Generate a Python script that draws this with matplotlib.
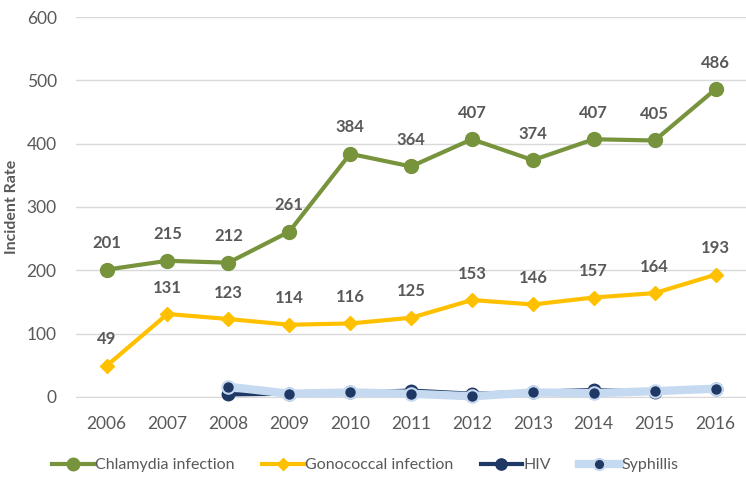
import matplotlib.pyplot as plt
from matplotlib import font_manager

years = ['2006', '2007', '2008', '2009', '2010', '2011', '2012', '2013', '2014', '2015', '2016']
chlamydia = [201, 215, 212, 261, 384, 364, 407, 374, 407, 405, 486]
gonococcal = [49, 131, 123, 114, 116, 125, 153, 146, 157, 164, 193]
hiv = [4, 5, 7, 10, 5, 8, 11, 8, 12]
syphilis = [16, 5, 7, 5, 1, 7, 6, 9, 13]
yticks = [0, 100, 200, 300, 400, 500, 600]

names = [f.name for f in font_manager.fontManager.ttflist]
font = 'Liberation Sans Narrow' if 'Liberation Sans Narrow' in names else 'Lato'
plt.rcParams['font.family'] = [font, 'DejaVu Sans']

grey = '#595959'
green = '#77933C'
yellow = '#FFC000'
navy = '#1F3864'
light = '#C5D9F1'

fig = plt.figure(figsize=(7.46, 4.87), dpi=100)
ax = fig.add_axes([0.102, 0.185, 0.898, 0.78])

x = list(range(len(years)))
x2 = x[2:]

ax.plot(x, chlamydia, color=green, lw=3, marker='o', ms=10, label='Chlamydia infection', zorder=4)
ax.plot(x, gonococcal, color=yellow, lw=3, marker='D', ms=7, label='Gonococcal infection', zorder=4)
ax.plot(x2, hiv, color=navy, lw=3, marker='o', ms=9, label='HIV', zorder=4, clip_on=False)
ax.plot(x2, syphilis, color=light, lw=6, marker='o', ms=9, mfc=navy, mec=light, mew=1.5,
        label='Syphillis', zorder=5, clip_on=False)

for series in (chlamydia, gonococcal):
    for i, v in enumerate(series):
        ax.annotate(str(v), (i, v), xytext=(0, 19), textcoords='offset points', ha='center',
                    va='center', fontsize=12, fontweight='bold', color=grey)

ax.set_xlim(-0.5, len(years) - 0.5)
ax.set_ylim(0, 600)
ax.set_xticks(x)
ax.set_xticklabels(years)
ax.set_yticks(yticks)
ax.tick_params(axis='both', length=0, labelsize=12.5, colors=grey)
ax.tick_params(axis='x', pad=14)
ax.tick_params(axis='y', pad=14)
ax.grid(axis='y', color='#D9D9D9', lw=1)
ax.set_axisbelow(True)
for s in ['top', 'right', 'left']:
    ax.spines[s].set_visible(False)
ax.spines['bottom'].set_color('#D9D9D9')

ax.set_ylabel('Incident Rate', fontsize=11.5, fontweight='bold', color=grey)
ax.yaxis.set_label_coords(-0.085, 0.5)

fig.legend(loc='center', bbox_to_anchor=(0.49, 0.045), ncol=4, frameon=False,
           fontsize=11.5, labelcolor=grey, handlelength=2.6, columnspacing=1.7,
           handletextpad=0.1, markerscale=0.9)

fig.savefig('out.png', dpi=100)
